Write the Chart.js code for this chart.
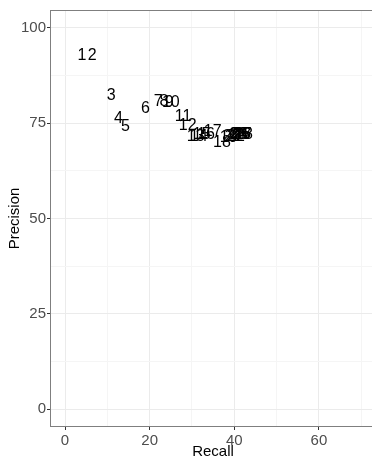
<!DOCTYPE html>
<html>
<head>
  <title>Precision vs Recall</title>
  <script src="https://cdn.jsdelivr.net/npm/chart.js"></script>
  <style>
    html, body { margin: 0; padding: 0; overflow: hidden; background: #fff; }
    #wrap { width: 380px; height: 458px; }
  </style>
</head>
<body>
  <div id="wrap"><canvas id="prChart" width="380" height="458"></canvas></div>

  <script>
    // point labels and their positions
    const pointLabels = ['1','2','3','4','5','6','7','8','9','10','11','12','13','14',
                         '15','16','17','18','19','20','21','22','23','24','25','26','27','28'];
    const recall = [4.0, 6.4, 10.9, 12.6, 14.3, 19.0, 22.0, 23.4, 24.6, 25.0, 27.9, 29.0, 30.9, 31.6,
                    32.3, 33.3, 34.9, 37.1, 38.7, 39.4, 39.9, 40.4, 40.9, 41.1, 41.6, 41.8, 42.0, 42.3];
    const precision = [92.6, 92.6, 82.3, 76.3, 74.2, 78.9, 80.7, 80.7, 80.5, 80.5, 76.8, 74.5, 71.6, 71.6,
                       71.9, 71.9, 72.7, 69.8, 71.1, 71.4, 71.6, 71.6, 71.9, 71.9, 71.9, 71.9, 71.9, 71.9];

    // axis ticks
    const xMajor = [0, 20, 40, 60];
    const xMinor = [10, 30, 50, 70];
    const yMajor = [0, 25, 50, 75, 100];
    const yMinor = [12.5, 37.5, 62.5, 87.5];

    const FONT = "'Liberation Sans', Arial, sans-serif";

    const points = recall.map((r, i) => ({ x: r, y: precision[i] }));

    function allTicks(major, minor) {
      return major.concat(minor).sort((a, b) => a - b).map(v => ({ value: v }));
    }

    // draws the number at each point, ggplot geom_text style
    const textLabels = {
      id: 'textLabels',
      afterDatasetsDraw(chart) {
        const { ctx, chartArea, scales } = chart;
        ctx.save();
        ctx.beginPath();
        ctx.rect(chartArea.left, chartArea.top, chartArea.right - chartArea.left, chartArea.bottom - chartArea.top);
        ctx.clip();
        ctx.font = '16px ' + FONT;
        ctx.fillStyle = '#000';
        ctx.textAlign = 'center';
        ctx.textBaseline = 'middle';
        points.forEach((p, i) => {
          ctx.fillText(pointLabels[i], scales.x.getPixelForValue(p.x), scales.y.getPixelForValue(p.y));
        });
        ctx.restore();
      }
    };

    // panel border all round
    const panelBorder = {
      id: 'panelBorder',
      afterDraw(chart) {
        const { ctx, chartArea: a } = chart;
        ctx.save();
        ctx.strokeStyle = '#7f7f7f';
        ctx.lineWidth = 1;
        ctx.strokeRect(a.left + 0.5, a.top + 0.5, a.right - a.left - 1, a.bottom - a.top - 1);
        ctx.restore();
      }
    };

    const gridColor = (major) => (c) => major.includes(c.tick.value) ? '#ebebeb' : '#f5f5f5';
    const tickColor = (major) => (c) => major.includes(c.tick.value) ? '#333333' : 'rgba(0,0,0,0)';

    new Chart(document.getElementById('prChart'), {
      type: 'scatter',
      data: {
        datasets: [{
          data: points,
          pointRadius: 0,
          pointHoverRadius: 0
        }]
      },
      plugins: [textLabels, panelBorder],
      options: {
        responsive: false,
        animation: false,
        layout: { padding: { top: 7, right: 4, bottom: 0, left: 0 } },
        plugins: { legend: { display: false }, tooltip: { enabled: false } },
        scales: {
          x: {
            type: 'linear',
            min: -3.55,
            max: 73.5,
            afterBuildTicks: s => { s.ticks = allTicks(xMajor, xMinor); },
            afterFit: s => { s.height = 31; },
            grid: { color: gridColor(xMajor), tickColor: tickColor(xMajor), tickLength: 3, lineWidth: 1 },
            border: { display: false },
            ticks: {
              autoSkip: false, maxRotation: 0, padding: 2,
              color: '#4d4d4d', font: { family: FONT, size: 15 },
              callback: v => xMajor.includes(v) ? String(v) : ''
            },
            title: {
              display: true, text: 'Recall', color: '#000',
              font: { family: FONT, size: 15, lineHeight: 0.8 },
              padding: { top: 0, bottom: 0 }
            }
          },
          y: {
            type: 'linear',
            min: -4.69,
            max: 104.69,
            afterBuildTicks: s => { s.ticks = allTicks(yMajor, yMinor); },
            afterFit: s => { s.width = 50; },
            grid: { color: gridColor(yMajor), tickColor: tickColor(yMajor), tickLength: 3, lineWidth: 1 },
            border: { display: false },
            ticks: {
              autoSkip: false, padding: 1,
              color: '#4d4d4d', font: { family: FONT, size: 15 },
              callback: v => yMajor.includes(v) ? String(v) : ''
            },
            title: {
              display: true, text: 'Precision', color: '#000',
              font: { family: FONT, size: 15, lineHeight: 1 },
              padding: { top: 7, bottom: 0 }
            }
          }
        }
      }
    });
  </script>
</body>
</html>
